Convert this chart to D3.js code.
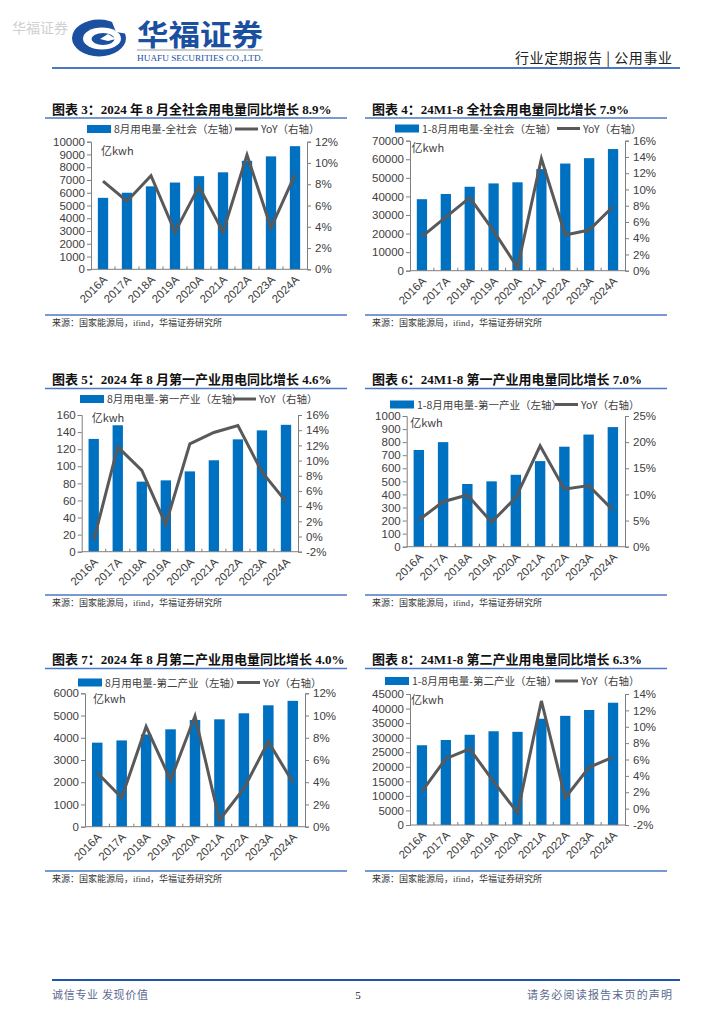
<!DOCTYPE html>
<html>
<head>
<meta charset="utf-8">
<script src="https://cdn.jsdelivr.net/npm/d3@7"></script>
<style>
  body { margin: 0; background: #fff; }
  svg { display: block; }
  .title { font-family: "Liberation Serif", "Noto Sans CJK SC"; font-weight: 700; font-size: 13px; fill: #111; }
  .legend { font-family: "Noto Sans CJK SC", "Liberation Sans"; font-size: 10.5px; fill: #404040; }
  .axis text { font-family: "Liberation Sans", "Noto Sans"; font-size: 11.5px; fill: #404040; }
  .xlab { font-family: "Liberation Sans", "Noto Sans"; font-size: 11.5px; fill: #404040; }
  .unit { font-family: "Noto Sans CJK SC", "Liberation Sans"; font-size: 11px; fill: #404040; }
  .src { font-family: "Liberation Serif", "Noto Sans CJK SC"; font-size: 9px; fill: #333; }
</style>
</head>
<body>
<svg id="page" width="724" height="1024"></svg>
<script>
// Categories
const years = ["2016A", "2017A", "2018A", "2019A", "2020A", "2021A", "2022A", "2023A", "2024A"];

// 图表3: 8月全社会用电量 (亿kwh) / YoY (%)
const augTotal = [5600, 6000, 6500, 6800, 7300, 7600, 8500, 8850, 9650];
const augTotalYoY = [8.3, 6.4, 8.8, 3.5, 7.8, 3.5, 10.75, 3.9, 8.9];

// 图表4: 1-8月全社会用电量
const ytdTotal = [38500, 41300, 45200, 47000, 47600, 54700, 57700, 60600, 65500];
const ytdTotalYoY = [4.2, 6.6, 9.0, 4.9, 0.4, 13.8, 4.4, 5.0, 7.9];

// 图表5: 8月第一产业用电量
const augPrimary = [132, 148, 82, 83.5, 94, 107, 131.5, 142, 148.5];
const augPrimaryYoY = [-0.5, 11.8, 8.7, 1.6, 12.2, 13.7, 14.6, 8.5, 4.6];

// 图表6: 1-8月第一产业用电量
const ytdPrimary = [740, 800, 480, 500, 550, 655, 765, 858, 915];
const ytdPrimaryYoY = [5.1, 8.6, 9.9, 4.7, 9.4, 19.3, 11.0, 11.7, 7.0];

// 图表7: 8月第二产业用电量
const augSecondary = [3780, 3880, 4150, 4380, 4800, 4830, 5100, 5460, 5660];
const augSecondaryYoY = [4.85, 2.6, 9.0, 4.2, 9.95, 0.6, 3.45, 7.65, 4.0];

// 图表8: 1-8月第二产业用电量
const ytdSecondary = [27400, 29200, 31000, 32200, 32000, 36500, 37500, 39500, 42000];
const ytdSecondaryYoY = [2.1, 6.1, 7.3, 3.3, -0.5, 13.15, 1.35, 5.05, 6.3];

// Titles and legend labels
const titles = [
  "图表 3：2024 年 8 月全社会用电量同比增长 8.9%",
  "图表 4：24M1-8 全社会用电量同比增长 7.9%",
  "图表 5：2024 年 8 月第一产业用电同比增长 4.6%",
  "图表 6：24M1-8 第一产业用电量同比增长 7.0%",
  "图表 7：2024 年 8 月第二产业用电量同比增长 4.0%",
  "图表 8：24M1-8 第二产业用电量同比增长 6.3%"
];
const barLabels = [
  "8月用电量-全社会（左轴）",
  "1-8月用电量-全社会（左轴）",
  "8月用电量-第一产业（左轴）",
  "1-8月用电量-第一产业（左轴）",
  "8月用电量-第二产业（左轴）",
  "1-8月用电量-第二产业（左轴）"
];
const lineLabel = "YoY（右轴）";
const unitLabel = "亿kwh";
const sourceText = "来源：国家能源局，ifind，华福证券研究所";

// Axis ranges: [min, max, step]
const leftAxes = [[0, 10000, 1000], [0, 70000, 10000], [0, 160, 20], [0, 1000, 100], [0, 6000, 1000], [0, 45000, 5000]];
const rightAxes = [[0, 12, 2], [0, 16, 2], [-2, 16, 2], [0, 25, 5], [0, 12, 2], [-2, 14, 2]];

const barSeries = [augTotal, ytdTotal, augPrimary, ytdPrimary, augSecondary, ytdSecondary];
const lineSeries = [augTotalYoY, ytdTotalYoY, augPrimaryYoY, ytdPrimaryYoY, augSecondaryYoY, ytdSecondaryYoY];

const BLUE = "#0070C0";
const GREY = "#595959";

// Layout of each panel on the page
const layout = [
  { colL: 45, colR: 347, tX: 52, tY: 114, ulY: 118, lgY: 129, lgR: 87, lgL: 235, x0: 91, x1: 307, yT: 141.7, yB: 269.3, uDx: 10, uY: 155, srcLine: 315, srcY: 326 },
  { colL: 365, colR: 667, tX: 372, tY: 114, ulY: 118, lgY: 128.5, lgR: 395, lgL: 557, x0: 410, x1: 625, yT: 140.7, yB: 270.7, uDx: 1.5, uY: 152, srcLine: 315, srcY: 326 },
  { colL: 45, colR: 347, tX: 52, tY: 384, ulY: 388.5, lgY: 399, lgR: 80, lgL: 233, x0: 81.7, x1: 298, yT: 415, yB: 551.7, uDx: 10, uY: 422, srcLine: 595, srcY: 606 },
  { colL: 365, colR: 667, tX: 372, tY: 384, ulY: 388.5, lgY: 404.5, lgR: 390, lgL: 555, x0: 406.7, x1: 625, yT: 416, yB: 546.7, uDx: 3.5, uY: 427, srcLine: 595, srcY: 606 },
  { colL: 45, colR: 347, tX: 52, tY: 664, ulY: 668.5, lgY: 682.5, lgR: 78, lgL: 237, x0: 85, x1: 305, yT: 693.3, yB: 826.7, uDx: 8, uY: 703, srcLine: 871, srcY: 882 },
  { colL: 365, colR: 667, tX: 372, tY: 664, ulY: 668.5, lgY: 681, lgR: 385, lgL: 555, x0: 410, x1: 625, yT: 694, yB: 825, uDx: 1, uY: 704, srcLine: 871, srcY: 882 }
];

const svg = d3.select("#page");

// ---------- header ----------
svg.append("text")
  .attr("x", 12).attr("y", 33)
  .attr("font-family", "Noto Sans CJK SC").attr("font-size", 14)
  .attr("fill", "#d0d0d0")
  .text("华福证券");

// logo mark
const logo = svg.append("g");
logo.append("ellipse").attr("cx", 99).attr("cy", 38).attr("rx", 27).attr("ry", 18.5).attr("fill", "#1B4F9F");
logo.append("ellipse").attr("cx", 102).attr("cy", 38.5).attr("rx", 19).attr("ry", 11).attr("fill", "#fff");
logo.append("path").attr("d", "M112,22 L128,26 L128,34 L116,32 Z").attr("fill", "#fff");
logo.append("ellipse").attr("cx", 103).attr("cy", 39).attr("rx", 11.5).attr("ry", 6).attr("fill", "#1B4F9F");
logo.append("path").attr("d", "M100,39 L108,34 L116,39 L108,41 Z").attr("fill", "#fff");

svg.append("text")
  .attr("x", 137).attr("y", 46)
  .attr("font-family", "Noto Sans CJK SC").attr("font-weight", 700).attr("font-size", 29)
  .attr("fill", "#1B4F9F")
  .attr("textLength", 126).attr("lengthAdjust", "spacingAndGlyphs")
  .text("华福证券");
svg.append("line").attr("x1", 137).attr("x2", 263).attr("y1", 50).attr("y2", 50)
  .attr("stroke", "#9a9a9a").attr("stroke-width", 1);
svg.append("text")
  .attr("x", 137).attr("y", 60.5)
  .attr("font-family", "Liberation Serif").attr("font-size", 8.5)
  .attr("fill", "#1B4F9F")
  .attr("textLength", 126).attr("lengthAdjust", "spacingAndGlyphs")
  .text("HUAFU SECURITIES CO.,LTD.");

svg.append("text")
  .attr("x", 672).attr("y", 63)
  .attr("text-anchor", "end")
  .attr("font-family", "Noto Sans CJK SC").attr("font-size", 14)
  .attr("fill", "#222")
  .attr("textLength", 157).attr("lengthAdjust", "spacing")
  .text("行业定期报告 | 公用事业");
svg.append("line").attr("x1", 52).attr("x2", 680).attr("y1", 68).attr("y2", 68)
  .attr("stroke", "#4A78C2").attr("stroke-width", 2);

// ---------- panels ----------
function drawPanel(i) {
  const p = layout[i];
  const bars = barSeries[i];
  const yoy = lineSeries[i];
  const g = svg.append("g");

  // title + underline
  g.append("text").attr("class", "title").attr("x", p.tX).attr("y", p.tY).text(titles[i]);
  g.append("line").attr("x1", p.colL).attr("x2", p.colR).attr("y1", p.ulY).attr("y2", p.ulY)
    .attr("stroke", "#4A78C2").attr("stroke-width", 1.3);

  // legend
  g.append("rect").attr("x", p.lgR).attr("y", p.lgY - 4).attr("width", 24).attr("height", 8).attr("fill", BLUE);
  g.append("text").attr("class", "legend").attr("x", p.lgR + 27).attr("y", p.lgY + 4).text(barLabels[i]);
  g.append("line").attr("x1", p.lgL).attr("x2", p.lgL + 23).attr("y1", p.lgY).attr("y2", p.lgY)
    .attr("stroke", GREY).attr("stroke-width", 3);
  g.append("text").attr("class", "legend").attr("x", p.lgL + 26).attr("y", p.lgY + 4).text(lineLabel);

  // scales
  const x = d3.scaleBand().domain(years).range([p.x0, p.x1]).paddingInner(0.57).paddingOuter(0.285);
  const [lMin, lMax, lStep] = leftAxes[i];
  const [rMin, rMax, rStep] = rightAxes[i];
  const yL = d3.scaleLinear().domain([lMin, lMax]).range([p.yB, p.yT]);
  const yR = d3.scaleLinear().domain([rMin, rMax]).range([p.yB, p.yT]);

  // bars
  g.selectAll("rect.bar").data(bars).join("rect")
    .attr("class", "bar")
    .attr("x", (d, j) => x(years[j]))
    .attr("width", x.bandwidth())
    .attr("y", d => yL(d))
    .attr("height", d => yL(0) - yL(d))
    .attr("fill", BLUE);

  // bottom axis line + boundary ticks
  g.append("line").attr("x1", p.x0).attr("x2", p.x1).attr("y1", p.yB).attr("y2", p.yB)
    .attr("stroke", "#7f7f7f").attr("stroke-width", 1);
  d3.range(1, years.length).forEach(k => {
    const bx = p.x0 + k * x.step();
    g.append("line").attr("x1", bx).attr("x2", bx).attr("y1", p.yB).attr("y2", p.yB - 3)
      .attr("stroke", "#7f7f7f").attr("stroke-width", 1);
  });

  // left axis
  const axL = g.append("g").attr("class", "axis").attr("transform", `translate(${p.x0},0)`)
    .call(d3.axisLeft(yL).tickValues(d3.range(lMin, lMax + lStep / 2, lStep)).tickFormat(d3.format("d")).tickSize(4).tickPadding(2));
  axL.select(".domain").attr("stroke", "#7f7f7f");
  axL.selectAll(".tick line").attr("stroke", "#7f7f7f");

  // right axis
  const axR = g.append("g").attr("class", "axis").attr("transform", `translate(${p.x1},0)`)
    .call(d3.axisRight(yR).tickValues(d3.range(rMin, rMax + rStep / 2, rStep)).tickFormat(d => d + "%").tickSize(4).tickPadding(4));
  axR.select(".domain").attr("stroke", "#7f7f7f");
  axR.selectAll(".tick line").attr("stroke", "#7f7f7f");

  // YoY line
  const line = d3.line()
    .x((d, j) => x(years[j]) + x.bandwidth() / 2)
    .y(d => yR(d));
  g.append("path").datum(yoy)
    .attr("d", line)
    .attr("fill", "none")
    .attr("stroke", GREY)
    .attr("stroke-width", 3)
    .attr("stroke-linejoin", "miter");

  // rotated category labels
  g.selectAll("text.xlab").data(years).join("text")
    .attr("class", "xlab")
    .attr("text-anchor", "end")
    .attr("transform", d => `translate(${x(d) + x.bandwidth() / 2 + 5},${p.yB + 11}) rotate(-45)`)
    .text(d => d);

  // unit label
  g.append("text").attr("class", "unit").attr("x", p.x0 + p.uDx).attr("y", p.uY).text(unitLabel);

  // source
  g.append("line").attr("x1", p.colL).attr("x2", p.colR).attr("y1", p.srcLine).attr("y2", p.srcLine)
    .attr("stroke", "#4A78C2").attr("stroke-width", 1.3);
  g.append("text").attr("class", "src").attr("x", p.tX).attr("y", p.srcY).text(sourceText);
}

layout.forEach((p, i) => drawPanel(i));

// ---------- footer ----------
svg.append("line").attr("x1", 52).attr("x2", 680).attr("y1", 980).attr("y2", 980)
  .attr("stroke", "#1F56AA").attr("stroke-width", 1.8);
svg.append("text")
  .attr("x", 52).attr("y", 999)
  .attr("font-family", "Noto Sans CJK SC").attr("font-size", 11)
  .attr("fill", "#5a6a90")
  .attr("textLength", 96).attr("lengthAdjust", "spacing")
  .text("诚信专业  发现价值");
svg.append("text")
  .attr("x", 358).attr("y", 999)
  .attr("text-anchor", "middle")
  .attr("font-family", "Liberation Serif").attr("font-size", 11)
  .attr("fill", "#222")
  .text("5");
svg.append("text")
  .attr("x", 672).attr("y", 999)
  .attr("text-anchor", "end")
  .attr("font-family", "Noto Sans CJK SC").attr("font-size", 11)
  .attr("fill", "#5a6a90")
  .attr("textLength", 145).attr("lengthAdjust", "spacing")
  .text("请务必阅读报告末页的声明");
</script>
</body>
</html>
